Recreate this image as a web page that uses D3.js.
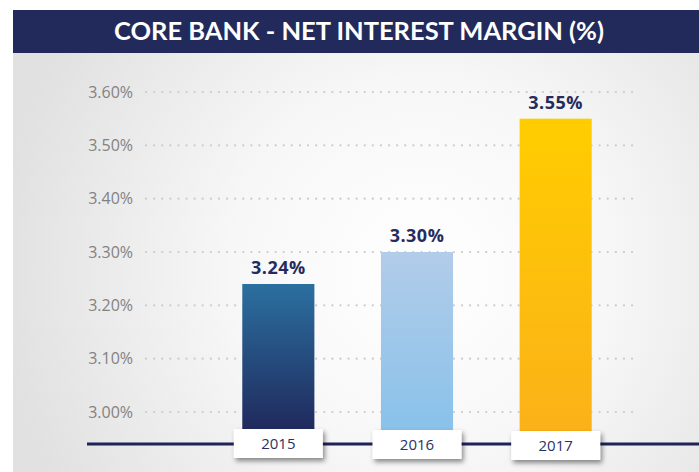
<!DOCTYPE html>
<html>
<head>
<meta charset="utf-8">
<script src="https://cdn.jsdelivr.net/npm/d3@7"></script>
<style>
  body { margin: 0; background: #fff; }
  svg { display: block; }
</style>
</head>
<body>
<div id="chart"></div>
<script>
var years = ['2015', '2016', '2017'];
var margins = [3.24, 3.30, 3.55];
var yTicks = [3.00, 3.10, 3.20, 3.30, 3.40, 3.50, 3.60];
var barColors = [['#2b70a0', '#1f2256'], ['#b2cce9', '#86c1ea'], ['#ffcd00', '#fbb01a']];
var title = 'CORE BANK - NET INTEREST MARGIN (%)';

var width = 699, height = 472;
var font = '"Open Sans", Lato, sans-serif';

var svg = d3.select('#chart').append('svg')
  .attr('width', width)
  .attr('height', height);

var defs = svg.append('defs');

var bg = defs.append('radialGradient')
  .attr('id', 'bg')
  .attr('gradientUnits', 'userSpaceOnUse')
  .attr('cx', 420).attr('cy', 270).attr('r', 420);
bg.append('stop').attr('offset', '0%').attr('stop-color', '#ffffff');
bg.append('stop').attr('offset', '45%').attr('stop-color', '#f7f7f7');
bg.append('stop').attr('offset', '100%').attr('stop-color', '#e1e1e1');

barColors.forEach(function (c, i) {
  var g = defs.append('linearGradient')
    .attr('id', 'bar' + i)
    .attr('x1', 0).attr('y1', 0).attr('x2', 0).attr('y2', 1);
  g.append('stop').attr('offset', '0%').attr('stop-color', c[0]);
  g.append('stop').attr('offset', '100%').attr('stop-color', c[1]);
});

var shadow = defs.append('filter')
  .attr('id', 'shadow')
  .attr('x', '-20%').attr('y', '-30%')
  .attr('width', '150%').attr('height', '180%');
shadow.append('feDropShadow')
  .attr('dx', 2).attr('dy', 3)
  .attr('stdDeviation', 2.5)
  .attr('flood-color', '#000')
  .attr('flood-opacity', 0.45);

// panel + title bar
svg.append('rect')
  .attr('x', 13).attr('y', 53)
  .attr('width', width - 13).attr('height', height - 53)
  .attr('fill', 'url(#bg)');

svg.append('rect')
  .attr('x', 13).attr('y', 10)
  .attr('width', width - 13).attr('height', 43)
  .attr('fill', '#222a5b');

svg.append('text')
  .attr('x', 359).attr('y', 40)
  .attr('text-anchor', 'middle')
  .attr('fill', '#fff')
  .attr('font-family', 'Lato, "Open Sans", sans-serif')
  .attr('font-weight', 700)
  .attr('font-size', 24)
  .attr('textLength', 490)
  .attr('lengthAdjust', 'spacingAndGlyphs')
  .text(title);

// scales
var y = d3.scaleLinear()
  .domain([3.00, 3.60])
  .range([412, 92]);

var x = d3.scaleBand()
  .domain(years)
  .range([209, 625])
  .paddingInner(0.48)
  .paddingOuter(0.24);

var baseY = 444;

// gridlines
svg.append('g')
  .selectAll('line')
  .data(yTicks).enter()
  .append('line')
  .attr('x1', 146).attr('x2', 636)
  .attr('y1', function (d) { return y(d); })
  .attr('y2', function (d) { return y(d); })
  .attr('stroke', '#cccccc')
  .attr('stroke-width', 2.2)
  .attr('stroke-linecap', 'round')
  .attr('stroke-dasharray', '0.1 8');

// y labels
svg.append('g')
  .selectAll('text')
  .data(yTicks).enter()
  .append('text')
  .attr('x', 133)
  .attr('y', function (d) { return y(d); })
  .attr('dy', '0.36em')
  .attr('text-anchor', 'end')
  .attr('fill', '#828282')
  .attr('font-family', font)
  .attr('font-size', 16)
  .text(function (d) { return d.toFixed(2) + '%'; });

// bars
svg.append('g')
  .selectAll('rect')
  .data(margins).enter()
  .append('rect')
  .attr('x', function (d, i) { return x(years[i]); })
  .attr('y', function (d) { return y(d); })
  .attr('width', x.bandwidth())
  .attr('height', function (d) { return baseY - y(d); })
  .attr('fill', function (d, i) { return 'url(#bar' + i + ')'; });

// value labels
svg.append('g')
  .selectAll('text')
  .data(margins).enter()
  .append('text')
  .attr('x', function (d, i) { return x(years[i]) + x.bandwidth() / 2; })
  .attr('y', function (d) { return y(d) - 10; })
  .attr('text-anchor', 'middle')
  .attr('fill', '#252c5d')
  .attr('font-family', font)
  .attr('font-weight', 700)
  .attr('font-size', 18)
  .attr('letter-spacing', 0.5)
  .text(function (d) { return d.toFixed(2) + '%'; });

// baseline
svg.append('line')
  .attr('x1', 87).attr('x2', width)
  .attr('y1', baseY).attr('y2', baseY)
  .attr('stroke', '#1f2358')
  .attr('stroke-width', 3);

// year boxes
var box = svg.append('g')
  .selectAll('g')
  .data(years).enter()
  .append('g')
  .attr('transform', function (d, i) {
    return 'translate(' + (x(d) + x.bandwidth() / 2) + ',' + (444 + i) + ')';
  });

box.append('rect')
  .attr('x', -44.5).attr('y', -15)
  .attr('width', 89).attr('height', 29)
  .attr('fill', '#fff')
  .attr('filter', 'url(#shadow)');

box.append('text')
  .attr('y', 0)
  .attr('dy', '0.36em')
  .attr('text-anchor', 'middle')
  .attr('fill', '#2c3163')
  .attr('font-family', font)
  .attr('font-size', 15)
  .text(function (d) { return d; });
</script>
</body>
</html>
